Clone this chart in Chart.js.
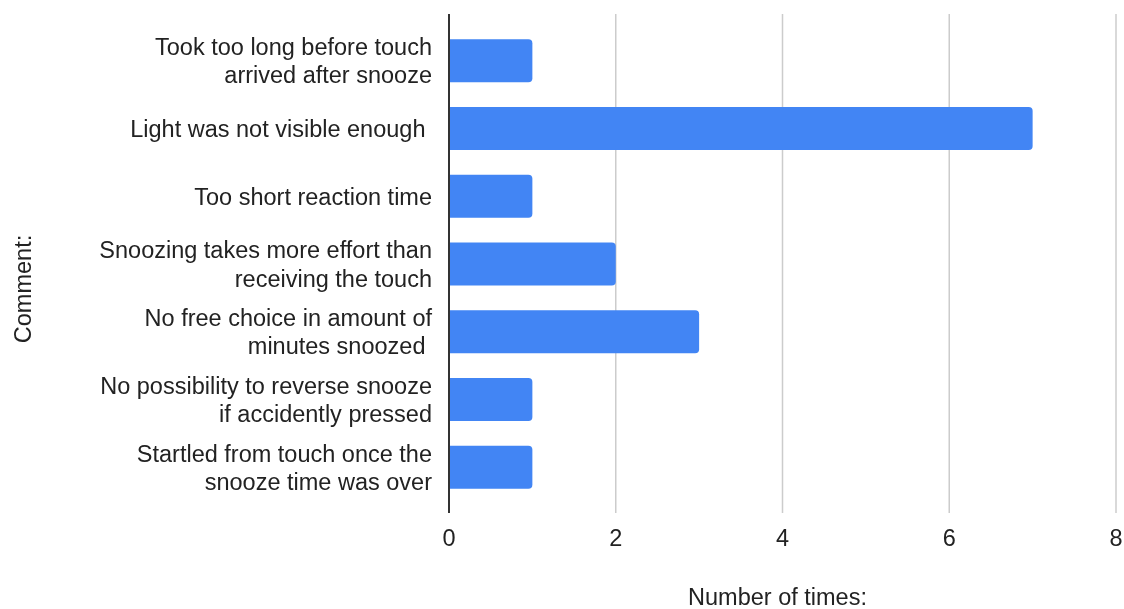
<!DOCTYPE html>
<html>
<head>
<meta charset="utf-8">
<script src="https://cdn.jsdelivr.net/npm/chart.js@4.4.1/dist/chart.umd.min.js"></script>
<style>
  html, body { margin: 0; padding: 0; background: #ffffff; }
  #wrap { width: 1124px; height: 609px; position: relative; }
</style>
</head>
<body>
<div id="wrap"><canvas id="chart" width="1124" height="609"></canvas></div>
<script>
// Feedback comments and how often each one was given
const comments = [
  ["Took too long before touch", "arrived after snooze"],
  "Light was not visible enough ",
  "Too short reaction time",
  ["Snoozing takes more effort than", "receiving the touch"],
  ["No free choice in amount of", "minutes snoozed "],
  ["No possibility to reverse snooze", "if accidently pressed"],
  ["Startled from touch once the", "snooze time was over"]
];
const counts = [1, 7, 1, 2, 3, 1, 1];
const xTicks = [0, 2, 4, 6, 8];
const xTitle = "Number of times:";
const yTitle = "Comment:";

const FONT = '"Liberation Sans", Arial, Helvetica, sans-serif';
const TEXT = '#222222';

// Grid lines and the value axis line run a little past the band of categories
const frame = {
  id: 'frame',
  beforeDatasetsDraw(chart) {
    const { ctx, chartArea, scales } = chart;
    ctx.save();
    ctx.strokeStyle = '#cccccc';
    ctx.lineWidth = 1.5;
    xTicks.forEach(v => {
      if (v === 0) return;
      const x = scales.x.getPixelForValue(v);
      ctx.beginPath();
      ctx.moveTo(x, chartArea.top - 13);
      ctx.lineTo(x, chartArea.bottom + 12);
      ctx.stroke();
    });
    ctx.restore();
  },
  afterDatasetsDraw(chart) {
    const { ctx, chartArea, scales } = chart;
    const x0 = scales.x.getPixelForValue(0);
    ctx.save();
    ctx.strokeStyle = '#333333';
    ctx.lineWidth = 2;
    ctx.beginPath();
    ctx.moveTo(x0, chartArea.top - 13);
    ctx.lineTo(x0, chartArea.bottom + 12);
    ctx.stroke();
    ctx.restore();
  },
  afterDraw(chart) {
    const { ctx } = chart;
    ctx.save();
    ctx.fillStyle = TEXT;
    ctx.font = '23.5px ' + FONT;
    ctx.textAlign = 'center';
    ctx.textBaseline = 'alphabetic';
    ctx.fillText(xTitle, 777.5, 605);
    ctx.translate(31, 289);
    ctx.rotate(-Math.PI / 2);
    ctx.fillText(yTitle, 0, 0);
    ctx.restore();
  }
};

new Chart(document.getElementById('chart'), {
  type: 'bar',
  data: {
    labels: comments,
    datasets: [{
      data: counts,
      backgroundColor: '#4285F4',
      borderWidth: 0,
      borderRadius: 4,
      borderSkipped: 'start',
      categoryPercentage: 1,
      barPercentage: 0.635
    }]
  },
  options: {
    indexAxis: 'y',
    responsive: false,
    animation: false,
    layout: { padding: { left: 0, top: 27, right: 8, bottom: 0 } },
    plugins: {
      legend: { display: false },
      tooltip: { enabled: false }
    },
    scales: {
      x: {
        type: 'linear',
        min: 0,
        max: 8,
        afterBuildTicks(scale) { scale.ticks = xTicks.map(v => ({ value: v })); },
        afterFit(scale) {
          scale.height = 108;
          scale.paddingLeft = 0;
          scale.paddingRight = 0;
        },
        grid: { display: false, drawTicks: false },
        border: { display: false },
        ticks: {
          padding: 24,
          color: TEXT,
          font: { family: FONT, size: 23.5 },
          maxRotation: 0
        }
      },
      y: {
        afterFit(scale) {
          scale.width = 449;
          scale.paddingTop = 0;
          scale.paddingBottom = 0;
        },
        grid: { display: false, drawTicks: false },
        border: { display: false },
        ticks: {
          padding: 17,
          labelOffset: 2,
          color: TEXT,
          font: { family: FONT, size: 23.5, lineHeight: 1.2 },
          autoSkip: false
        }
      }
    }
  },
  plugins: [frame]
});
</script>
</body>
</html>
